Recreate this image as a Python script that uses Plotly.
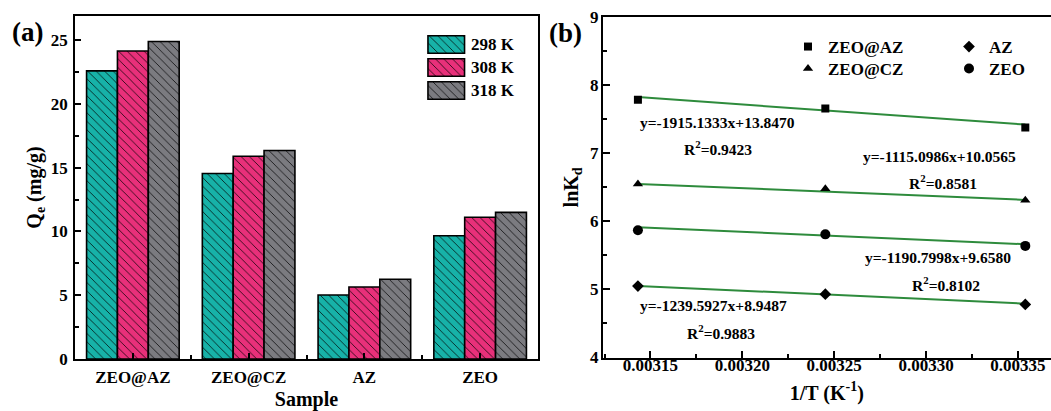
import plotly.graph_objects as go

# ---------------- data ----------------
samples = ["ZEO@AZ", "ZEO@CZ", "AZ", "ZEO"]
temps_label = ["298 K", "308 K", "318 K"]
qe_298 = [22.6, 14.55, 5.02, 9.67]
qe_308 = [24.15, 15.9, 5.65, 11.12]
qe_318 = [24.9, 16.35, 6.25, 11.5]
bar_colors = ["#17B2A8", "#E8307A", "#7B7B80"]

temps_K = [318.15, 308.15, 298.15]
lnkd_zeo_az = [7.79, 7.66, 7.38]
lnkd_zeo_cz = [6.55, 6.48, 6.31]
lnkd_az = [5.05, 4.93, 4.78]
lnkd_zeo = [5.87, 5.81, 5.64]
fit_slope = {"ZEO@AZ": -1915.1333, "ZEO@CZ": -1115.0986, "ZEO": -1190.7998, "AZ": -1239.5927}
fit_inter = {"ZEO@AZ": 13.8470, "ZEO@CZ": 10.0565, "ZEO": 9.6580, "AZ": 8.9487}
fit_r2 = {"ZEO@AZ": "0.9423", "ZEO@CZ": "0.8581", "ZEO": "0.8102", "AZ": "0.9883"}

W, H = 1051, 411
FONT = "Liberation Serif"
GREEN = "#2E8B3C"


def px(x):
    return x / W


def py(y):
    return (H - y) / H


fig = go.Figure()

# ---------------- panel (a): bars ----------------
qe_series = [qe_298, qe_308, qe_318]
xs = list(range(len(samples)))
for name, vals, col in zip(temps_label, qe_series, bar_colors):
    fig.add_trace(go.Bar(
        x=xs, y=vals, name=name, showlegend=False,
        marker=dict(color=col, line=dict(color="black", width=1.6),
                    pattern=dict(shape="\\", fgcolor="black", bgcolor=col,
                                 fillmode="replace", size=6, solidity=0.12)),
        xaxis="x", yaxis="y"))

# legend for panel (a) drawn as small bars on their own axes
for i, (name, col) in enumerate(zip(temps_label, bar_colors)):
    fig.add_trace(go.Bar(
        x=[1], y=[i], orientation="h", width=0.76, showlegend=False,
        marker=dict(color=col, line=dict(color="black", width=1.6),
                    pattern=dict(shape="\\", fgcolor="black", bgcolor=col,
                                 fillmode="replace", size=6, solidity=0.12)),
        xaxis="x3", yaxis="y3", hoverinfo="skip"))

# ---------------- panel (b): scatter + fits ----------------
inv_T = [1.0 / t for t in temps_K]
series_b = [
    ("ZEO@AZ", lnkd_zeo_az, "square", 8, "legend"),
    ("ZEO@CZ", lnkd_zeo_cz, "triangle-up", 9, "legend2"),
    ("AZ", lnkd_az, "diamond", 9, "legend3"),
    ("ZEO", lnkd_zeo, "circle", 10, "legend4"),
]
for name, vals, sym, sz, leg in series_b:
    xl = [inv_T[0], inv_T[-1]]
    yl = [fit_slope[name] * x + fit_inter[name] for x in xl]
    fig.add_trace(go.Scatter(x=xl, y=yl, mode="lines", showlegend=False,
                             line=dict(color=GREEN, width=2),
                             xaxis="x2", yaxis="y2"))
for name, vals, sym, sz, leg in series_b:
    fig.add_trace(go.Scatter(x=inv_T, y=vals, mode="markers", name=name,
                             legend=leg,
                             marker=dict(symbol=sym, size=sz, color="black"),
                             xaxis="x2", yaxis="y2"))

tickfont = dict(family=FONT, size=17, color="black", weight="bold")
titlefont = dict(family=FONT, size=20, color="black", weight="bold")
axline = dict(showline=True, linecolor="black", linewidth=1.8, showgrid=False,
              zeroline=False, ticks="inside", tickcolor="black", tickwidth=1.5,
              automargin=False)

legfont = dict(family=FONT, size=17, color="black", weight="bold")


def leg(xp, ytop):
    return dict(x=px(xp), y=py(ytop), xanchor="left", yanchor="top", font=legfont,
                bgcolor="rgba(0,0,0,0)", tracegroupgap=0, itemwidth=30)


fig.update_layout(
    width=W, height=H, margin=dict(l=0, r=0, t=0, b=0, pad=0, autoexpand=False),
    autosize=False,
    plot_bgcolor="white", paper_bgcolor="white",
    barmode="group", bargap=0.2, bargroupgap=0,
    xaxis=dict(domain=[px(75), px(538)], range=[-0.5, 3.5], anchor="y",
               tickvals=xs, ticktext=samples, ticklen=6, mirror=True,
               minor=dict(tick0=0.5, dtick=1, ticks="inside", ticklen=4, tickcolor="black"),
               tickfont=tickfont, ticklabelstandoff=2,
               title=dict(text="Sample", font=titlefont, standoff=6), **axline),
    yaxis=dict(domain=[py(359), py(16)], range=[0, 26.9], anchor="x",
               dtick=5, ticklen=6, mirror=True,
               minor=dict(dtick=2.5, ticks="inside", ticklen=4, tickcolor="black"),
               tickfont=tickfont, ticklabelstandoff=2,
               title=dict(text="Q<sub>e</sub> (mg/g)", font=titlefont, standoff=4), **axline),
    xaxis2=dict(domain=[px(602.7), 1.0], range=[0.003124, 0.003368], anchor="y2",
                dtick=0.00005, tick0=0.00315, tickformat=".5f", ticklen=7, mirror=True,
                minor=dict(dtick=0.000025, ticks="inside", ticklen=4, tickcolor="black"),
                tickfont=tickfont, ticklabelstandoff=-9,
                title=dict(text="1/T (K<sup>-1</sup>)", font=titlefont, standoff=12), **axline),
    yaxis2=dict(domain=[py(357.5), py(17.3)], range=[4, 9], anchor="x2",
                dtick=1, ticklen=7,
                minor=dict(dtick=0.5, ticks="inside", ticklen=4, tickcolor="black"),
                tickfont=tickfont, ticklabelstandoff=-1,
                title=dict(text="lnK<sub>d</sub>", font=titlefont, standoff=6), **axline),
    xaxis3=dict(domain=[px(426.5), px(466)], range=[-0.04, 1.04], visible=False, anchor="y3"),
    yaxis3=dict(domain=[py(102), py(33)], range=[2.5, -0.5], visible=False, anchor="x3"),
    legend=leg(788, 29),
    legend2=leg(788, 51),
    legend3=leg(949, 29),
    legend4=leg(949, 51),
)

annots = []
big = dict(family=FONT, size=27, color="black", weight="bold")
small = dict(family=FONT, size=15.5, color="black", weight="bold")
# panel labels
annots.append(dict(text="(a)", x=px(27), y=py(32), font=big))
annots.append(dict(text="(b)", x=px(565), y=py(33), font=big))
# bar legend labels
for i, name in enumerate(temps_label):
    annots.append(dict(text=name, x=px(469), y=py(44.5 + 23 * i), xanchor="left",
                       font=dict(family=FONT, size=17, color="black", weight="bold")))
# fit equations (positions in pixels of the picture)
eq_pos = {
    "ZEO@AZ": ((717, 122.5), (718, 148)),
    "ZEO@CZ": ((939, 156), (943, 182)),
    "ZEO": ((938, 257.5), (946, 284)),
    "AZ": ((713, 305), (721, 331.5)),
}
for name, ((ex, ey), (rx, ry)) in eq_pos.items():
    eq = "y={:.4f}x+{:.4f}".format(fit_slope[name], fit_inter[name])
    annots.append(dict(text=eq, x=px(ex), y=py(ey), font=small))
    annots.append(dict(text="R<sup>2</sup>=" + fit_r2[name], x=px(rx), y=py(ry), font=small))
for a in annots:
    a.setdefault("xanchor", "center")
    a.setdefault("yanchor", "middle")
    a.update(xref="paper", yref="paper", showarrow=False)
fig.update_layout(annotations=annots)

fig.write_html("out.html")
